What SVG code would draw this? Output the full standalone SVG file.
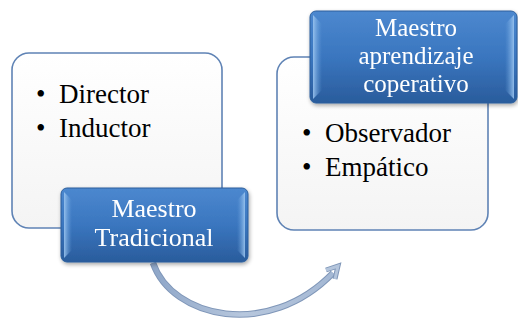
<svg xmlns="http://www.w3.org/2000/svg" width="518" height="327" viewBox="0 0 518 327">
<defs>
<linearGradient id="blue" x1="0" y1="0" x2="0" y2="1">
<stop offset="0" stop-color="#4c88cf"/>
<stop offset="0.5" stop-color="#3a76bf"/>
<stop offset="1" stop-color="#2a5c9c"/>
</linearGradient>
<linearGradient id="bevL" x1="0" y1="0" x2="1" y2="0">
<stop offset="0" stop-color="#9cc6f0" stop-opacity="0.9"/>
<stop offset="1" stop-color="#6aa0dc" stop-opacity="0"/>
</linearGradient>
<linearGradient id="bevR" x1="1" y1="0" x2="0" y2="0">
<stop offset="0" stop-color="#9cc6f0" stop-opacity="0.9"/>
<stop offset="1" stop-color="#6aa0dc" stop-opacity="0"/>
</linearGradient>
<linearGradient id="light" x1="0" y1="0" x2="0" y2="1">
<stop offset="0" stop-color="#ffffff"/>
<stop offset="1" stop-color="#f4f4f4"/>
</linearGradient>
<linearGradient id="arc" x1="0" y1="0" x2="1" y2="0">
<stop offset="0" stop-color="#8ea6c8"/>
<stop offset="0.5" stop-color="#b7c7dd"/>
<stop offset="1" stop-color="#a4b8d4"/>
</linearGradient>
<filter id="sh" x="-10%" y="-10%" width="125%" height="130%">
<feGaussianBlur in="SourceAlpha" stdDeviation="2"/>
<feOffset dx="1" dy="2"/>
<feComponentTransfer><feFuncA type="linear" slope="0.35"/></feComponentTransfer>
<feMerge><feMergeNode/><feMergeNode in="SourceGraphic"/></feMerge>
</filter>
</defs>
<style>
.card{fill:url(#light);stroke:#5f83b5;stroke-width:1.6}
.head{fill:url(#blue);stroke:#2d5f9c;stroke-width:1}
</style>
<g id="card-tradicional">
<rect class="card" x="12" y="53" width="210" height="175" rx="17"/>
<g font-family="Liberation Serif, serif" font-size="27" fill="#000">
<text x="36" y="103">•</text><text x="59" y="103">Director</text>
<text x="36" y="137">•</text><text x="59" y="137">Inductor</text>
</g>
</g>
<g id="card-cooperativo">
<rect class="card" x="277" y="57" width="211" height="173" rx="17"/>
<g font-family="Liberation Serif, serif" font-size="27" fill="#000">
<text x="302" y="142">•</text><text x="325" y="142">Observador</text>
<text x="302" y="176">•</text><text x="325" y="176">Empático</text>
</g>
</g>
<g id="connectors">
<path d="M153,263 C172,318 268,340 333,273" fill="none" stroke="#7f96b8" stroke-width="6.5"/>
<path d="M153,263 C172,318 268,340 333,273" fill="none" stroke="url(#arc)" stroke-width="4.5"/>
<path d="M326,270 L338,266 L335,279" fill="none" stroke="#7f96b8" stroke-width="5" stroke-linejoin="miter"/>
<path d="M326,270 L338,266 L335,279" fill="none" stroke="#b4c5dc" stroke-width="3" stroke-linejoin="miter"/>
</g>
<g id="head-tradicional" filter="url(#sh)">
<rect class="head" x="61" y="188" width="187" height="74" rx="6"/>
<polygon points="64,192 72,200 72,250 64,258" fill="url(#bevL)"/>
<polygon points="245,192 237,200 237,250 245,258" fill="url(#bevR)"/>
<g font-family="Liberation Serif, serif" font-size="26" fill="#fff" text-anchor="middle">
<text x="154" y="217">Maestro</text>
<text x="154" y="246">Tradicional</text>
</g>
</g>
<g id="head-cooperativo" filter="url(#sh)">
<rect class="head" x="310" y="11" width="207" height="92" rx="6"/>
<polygon points="313,15 322,24 322,90 313,99" fill="url(#bevL)"/>
<polygon points="514,15 505,24 505,90 514,99" fill="url(#bevR)"/>
<g font-family="Liberation Serif, serif" font-size="25" fill="#fff" text-anchor="middle">
<text x="416" y="36">Maestro</text>
<text x="416" y="64">aprendizaje</text>
<text x="416" y="92">coperativo</text>
</g>
</g>
</svg>
